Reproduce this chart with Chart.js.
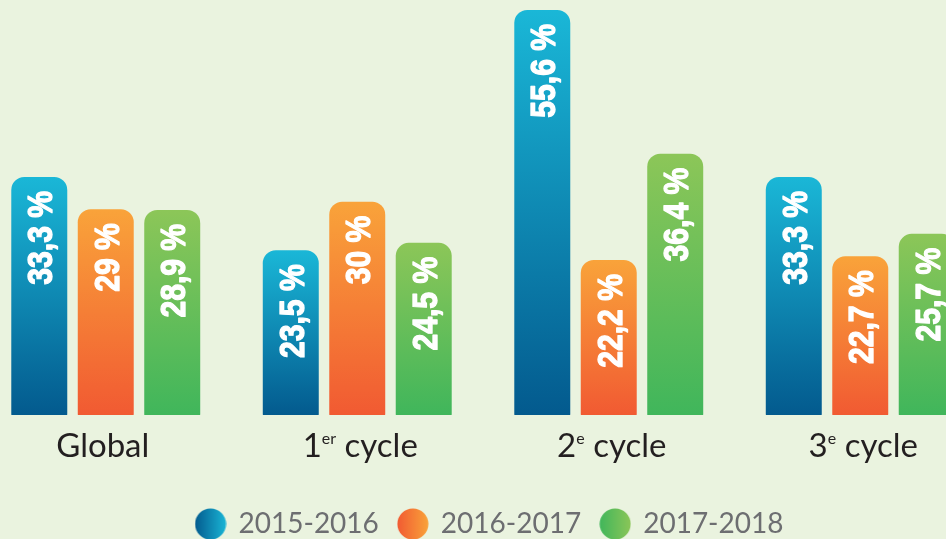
<!DOCTYPE html>
<html>
<head>
<meta charset="utf-8">
<script src="https://cdn.jsdelivr.net/npm/chart.js@4.4.1/dist/chart.umd.min.js"></script>
<style>
  html, body { margin: 0; padding: 0; background: #eaf3df; overflow: hidden; width: 946px; height: 539px; }
  #wrap { position: absolute; left: -20px; top: 0; width: 1006px; height: 548px; }
</style>
</head>
<body>
<div id="wrap"><canvas id="chart"></canvas></div>
<script>
// categories and series (percent)
const categories = ["Global", "1er cycle", "2e cycle", "3e cycle"];
const years = ["2015-2016", "2016-2017", "2017-2018"];
const s2015 = [33.3, 23.5, 55.6, 33.3];
const s2016 = [29, 30, 22.2, 22.7];
const s2017 = [28.9, 24.5, 36.4, 25.7];

// gradient stops: top colour, bottom colour
const palette = [
  ["#1ab7d7", "#035a8e"],
  ["#f9a33a", "#f15a32"],
  ["#8cc658", "#40b65b"]
];

function barGradient(cols) {
  return function (c) {
    const chart = c.chart;
    const area = chart.chartArea;
    if (!area || c.type !== "data") return cols[1];
    const top = chart.scales.y.getPixelForValue(c.raw);
    const g = chart.ctx.createLinearGradient(0, top, 0, area.bottom);
    g.addColorStop(0, cols[0]);
    g.addColorStop(1, cols[1]);
    return g;
  };
}

function dot(cols) {
  const cv = document.createElement("canvas");
  cv.width = 32; cv.height = 32;
  const x = cv.getContext("2d");
  const g = x.createLinearGradient(0, 0, 32, 0);
  g.addColorStop(0, cols[1]);
  g.addColorStop(1, cols[0]);
  x.fillStyle = g;
  x.beginPath();
  x.arc(16, 16, 15.5, 0, Math.PI * 2);
  x.fill();
  return cv;
}

const fmt = v => String(v).replace(".", ",") + " %";

// values written upward inside each bar
const barLabels = {
  id: "barLabels",
  afterDatasetsDraw(chart) {
    const ctx = chart.ctx;
    chart.data.datasets.forEach((ds, i) => {
      chart.getDatasetMeta(i).data.forEach((bar, j) => {
        ctx.save();
        ctx.translate(bar.x, bar.y + 14);
        ctx.rotate(-Math.PI / 2);
        ctx.scale(0.86, 1);
        ctx.font = "bold 35px 'Liberation Sans', Arial, sans-serif";
        ctx.fillStyle = "#ffffff";
        ctx.strokeStyle = "#ffffff";
        ctx.lineWidth = 1.3;
        ctx.lineJoin = "round";
        ctx.textAlign = "right";
        ctx.textBaseline = "alphabetic";
        ctx.fillText(fmt(ds.data[j]), 0, 13);
        ctx.strokeText(fmt(ds.data[j]), 0, 13);
        ctx.restore();
      });
    });
  }
};

// category names with superscript ordinal
const catLabels = {
  id: "catLabels",
  afterDraw(chart) {
    const ctx = chart.ctx;
    const xs = chart.scales.x;
    const base = chart.chartArea.bottom + 42;
    const big = "33px Lato, 'Open Sans', sans-serif";
    const small = "16px Lato, 'Open Sans', sans-serif";
    ctx.save();
    ctx.fillStyle = "#231f20";
    ctx.textBaseline = "alphabetic";
    ctx.textAlign = "left";
    categories.forEach((name, i) => {
      const m = name.match(/^(\d)(er|e) (.*)$/);
      const parts = m ? [[m[1], big, 0], [m[2], small, -13], [" " + m[3], big, 0]] : [[name, big, 0]];
      let w = 0;
      parts.forEach(p => { ctx.font = p[1]; w += ctx.measureText(p[0]).width; });
      let x = xs.getPixelForValue(i) - w / 2 + (m ? 3 : -3);
      parts.forEach(p => {
        ctx.font = p[1];
        ctx.fillText(p[0], x, base + p[2]);
        x += ctx.measureText(p[0]).width;
      });
    });
    ctx.restore();
  }
};

// nudge the legend to sit where the reference has it
const legendShift = {
  id: "legendShift",
  afterLayout(chart) {
    if (chart.legend) { chart.legend.left += 7; chart.legend.right += 7; }
  }
};

const series = [s2015, s2016, s2017];

new Chart(document.getElementById("chart"), {
  type: "bar",
  data: {
    labels: categories,
    datasets: series.map((d, i) => ({
      label: years[i],
      data: d,
      backgroundColor: barGradient(palette[i]),
      borderRadius: 13,
      borderSkipped: false,
      borderWidth: 0,
      categoryPercentage: 0.793,
      barPercentage: 0.842
    }))
  },
  options: {
    responsive: true,
    maintainAspectRatio: false,
    devicePixelRatio: 1,
    animation: false,
    layout: { padding: { top: 10, left: 0, right: 0, bottom: 0 } },
    plugins: {
      tooltip: { enabled: false },
      legend: {
        position: "bottom",
        labels: {
          usePointStyle: true,
          pointStyleWidth: 28,
          boxHeight: 28,
          padding: 20,
          color: "#6d6e71",
          font: { family: "Lato, 'Open Sans', sans-serif", size: 28 },
          generateLabels: chart => chart.data.datasets.map((ds, i) => ({
            text: ds.label,
            pointStyle: dot(palette[i]),
            fillStyle: palette[i][0],
            strokeStyle: "transparent",
            lineWidth: 0,
            fontColor: "#6d6e71",
            hidden: false,
            datasetIndex: i
          }))
        }
      }
    },
    scales: {
      x: {
        grid: { display: false, drawTicks: false },
        border: { display: false },
        ticks: { display: false },
        afterFit: s => { s.height = 75; }
      },
      y: {
        display: false,
        min: 1.5,
        max: 55.6
      }
    }
  },
  plugins: [barLabels, catLabels, legendShift]
});
</script>
</body>
</html>
